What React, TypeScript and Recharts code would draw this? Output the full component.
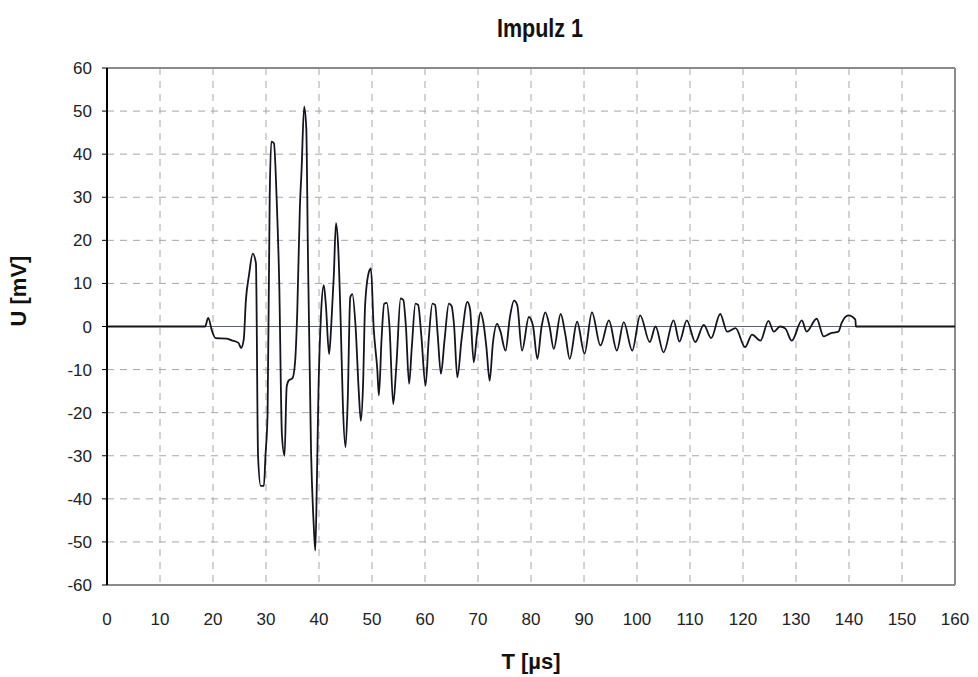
import { LineChart, Line, XAxis, YAxis, CartesianGrid, ReferenceLine } from 'recharts'

// time [µs] and voltage [mV]
const times = [
  0, 18.5, 19.1, 19.8, 20.5, 22.5, 23.5, 24.8, 25.3, 25.8, 26.2, 26.8, 27.5, 28.1,
  28.5, 29.0, 29.6, 29.9, 30.3, 30.7, 31.0, 31.5, 32.0, 32.5, 33.0, 33.5, 33.9, 34.3,
  35.0, 35.5, 35.9, 36.4, 36.7, 37.2, 37.6, 37.9, 38.5, 39.0, 39.3, 39.6, 39.9, 40.4,
  40.9, 41.3, 41.9, 42.3, 42.8, 43.2, 43.6, 44.1, 44.5, 45.0, 45.4, 45.9, 46.3, 46.9,
  47.5, 47.9, 48.3, 48.7, 49.4, 49.8, 50.3, 51.0, 51.3, 51.8, 52.3, 52.8, 53.3, 54.0,
  54.6, 55.4, 55.9, 56.4, 57.0, 57.5, 58.2, 58.7, 59.3, 60.1, 60.7, 61.4, 61.9, 62.4,
  63.0, 63.7, 64.5, 65.0, 65.5, 66.1, 66.9, 68.0, 68.5, 69.2, 69.8, 70.5, 71.0, 71.6,
  72.2, 72.8, 73.6, 74.2, 75.2, 76.0, 76.8, 77.4, 78.3, 79.6, 80.4, 81.2, 82.0, 82.7,
  83.5, 84.3, 85.6, 86.5, 87.3, 88.7, 90.1, 91.5, 93.1, 94.7, 96.2, 97.5, 99.1, 100.6,
  102.4, 103.5, 105.0, 106.9, 108.0, 109.4, 111.0, 112.6, 114.0, 115.7, 117.0, 118.6,
  120.4, 121.7, 123.3, 124.8, 125.8, 127.0, 128.0, 129.2, 131.1, 132.0, 133.9, 135.2,
  136.5, 138.0, 138.6, 139.9, 141.2, 141.3, 160,
]
const volts = [
  0, 0, 2.0, -1.0, -2.7, -2.8, -3.2, -3.8, -5.0, -3, 6, 12, 16.9, 14.7,
  -30, -37, -37, -30, -20, 30, 42.9, 42.5, 30, 10, -25, -30, -14, -12.5,
  -12, -8, 3.5, 28, 36, 51, 46, 18, -29, -46, -52, -36, -15, 3.3,
  9.6, 5, -6.4, 0, 12, 24, 19, 0.7, -18, -28, -18, 6.8, 7.5, 0,
  -15, -21.9, -14, 5, 12.6, 13.5, 0, -10, -16, -3, 5.3, 5.5, 0, -18,
  -9, 6.5, 6.2, 0, -13.3, -5, 5.3, 5, -2, -13.7, -3, 5.3, 5, -2,
  -11, -3, 5.3, 4.8, 0, -11.8, -3, 5.7, 4, -8.3, -2, 3.3, 1, -5,
  -12.6, -4, 0.6, -1, -5.6, 2, 6.0, 5, -5.6, 2.2, 0, -7.5, 0, 3.3,
  0, -5.2, 2.9, -2, -7.5, 1.1, -6.3, 3.3, -4.4, 1.4, -5.6, 1, -5.6, 2.6,
  -3.6, 0, -6, 1.4, -3.5, 1.4, -3.6, 0.4, -2.7, 2.9, -1.2, -0.4,
  -4.8, -1.9, -3.3, 1.3, -1.2, 0, -0.5, -3.3, 1.4, -1.2, 1.8, -2.3,
  -1.6, -1.2, 0.8, 2.6, 1.6, 0, 0,
]

const xTicks = [0, 10, 20, 30, 40, 50, 60, 70, 80, 90, 100, 110, 120, 130, 140, 150, 160]
const yTicks = [-60, -50, -40, -30, -20, -10, 0, 10, 20, 30, 40, 50, 60]

const data = times.map((t, i) => ({ t, u: volts[i] }))

const font = '"Liberation Sans", Arial, sans-serif'

export default function App() {
  return (
    <div style={{ position: 'fixed', left: 0, top: 0, width: 978, height: 677, background: '#fff' }}>
      <div style={{
        position: 'absolute', left: 540, top: 14, transform: 'translateX(-50%) scaleX(0.86)',
        fontFamily: font, fontWeight: 700, fontSize: 25, color: '#111', whiteSpace: 'nowrap',
      }}>
        Impulz 1
      </div>
      <LineChart width={978} height={677} data={data} margin={{ top: 68, right: 23, bottom: 0, left: 0 }}>
        <CartesianGrid strokeDasharray="7 6" stroke="#a8a8a8" />
        <XAxis
          type="number"
          dataKey="t"
          domain={[0, 160]}
          ticks={xTicks}
          interval={0}
          height={92}
          tickLine={false}
          tickMargin={22}
          axisLine={{ stroke: '#8a8a8a', strokeWidth: 2 }}
          tick={{ fill: '#222', fontSize: 17, fontFamily: font }}
          label={{ value: 'T [µs]', position: 'insideBottom', offset: 8, fill: '#111', fontSize: 22, fontWeight: 700, fontFamily: font }}
        />
        <YAxis
          type="number"
          domain={[-60, 60]}
          ticks={yTicks}
          interval={0}
          width={107}
          tickSize={5}
          tickMargin={10}
          tickLine={{ stroke: '#000' }}
          axisLine={{ stroke: '#000', strokeWidth: 2 }}
          tick={{ fill: '#222', fontSize: 17, fontFamily: font }}
          label={{ value: 'U [mV]', angle: -90, position: 'insideLeft', offset: 18, fill: '#111', fontSize: 22, fontWeight: 700, fontFamily: font }}
        />
        <ReferenceLine y={60} stroke="#8a8a8a" strokeWidth={2} />
        <ReferenceLine x={160} stroke="#8a8a8a" strokeWidth={2} />
        <ReferenceLine y={0} stroke="#5a6278" strokeWidth={1.2} />
        <Line
          type="monotone"
          dataKey="u"
          stroke="#14141f"
          strokeWidth={1.8}
          dot={false}
          isAnimationActive={false}
        />
      </LineChart>
    </div>
  )
}
